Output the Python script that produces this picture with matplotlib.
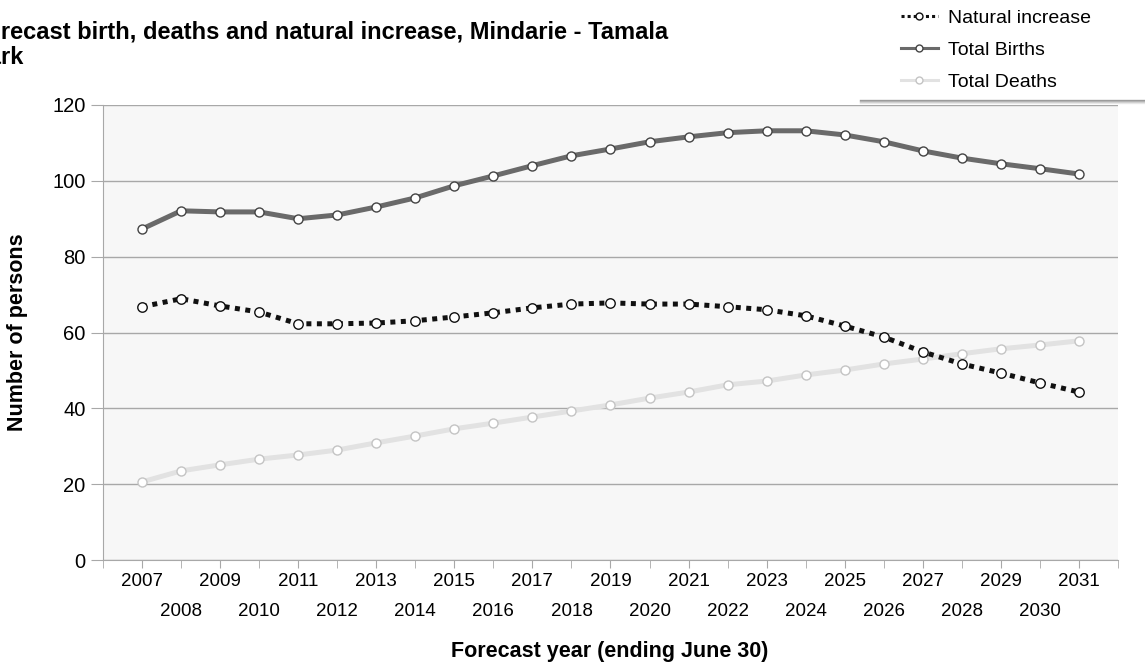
import matplotlib.pyplot as plt
from matplotlib.lines import Line2D
from matplotlib.ticker import FixedLocator, FixedFormatter

plt.rcParams['font.family'] = ['Liberation Sans', 'DejaVu Sans']

years = list(range(2007, 2032))
births = [87.3, 92.1, 91.8, 91.8, 90.0, 91.0, 93.1, 95.5, 98.7, 101.3, 104.0, 106.6, 108.4,
          110.3, 111.6, 112.7, 113.2, 113.2, 112.1, 110.3, 107.9, 106.0, 104.5, 103.2, 101.8]
deaths = [20.6, 23.5, 25.1, 26.6, 27.7, 29.0, 30.9, 32.7, 34.6, 36.1, 37.7, 39.3, 40.9,
          42.7, 44.3, 46.2, 47.2, 48.8, 50.1, 51.7, 53.0, 54.4, 55.7, 56.7, 57.8]
natural = [66.8, 68.9, 67.0, 65.4, 62.3, 62.3, 62.5, 63.1, 64.1, 65.2, 66.5, 67.5, 67.8,
           67.5, 67.5, 66.8, 66.0, 64.4, 61.7, 58.8, 54.9, 51.7, 49.3, 46.7, 44.3]
yticks = [0, 20, 40, 60, 80, 100, 120]

fig = plt.figure(figsize=(11.45, 6.68), dpi=100)
ax = fig.add_axes([103/1145, 1-560/668, (1118-103)/1145, (560-105)/668])
ax.set_facecolor('#f7f7f7')

ax.plot(years, deaths, '-', color='#e2e2e2', lw=3.6, marker='o', ms=6.5,
        mfc='white', mec='#c4c4c4', mew=1, zorder=3)
ax.plot(years, births, '-', color='#6a6a6a', lw=3.6, marker='o', ms=6.5,
        mfc='white', mec='#444444', mew=1, zorder=4)
ax.plot(years, natural, color='#111111', lw=3.6, ls=(0, (1, 1.1)), marker='o', ms=6.8,
        mfc='white', mec='#111111', mew=1, zorder=5)

ax.set_xlim(2006, 2032)
ax.set_ylim(0, 120)
ax.set_yticks(yticks)
ax.grid(axis='y', color='#a8a8a8', lw=1)
ax.set_axisbelow(True)
for s in ['top', 'right']:
    ax.spines[s].set_visible(False)
for s in ['left', 'bottom']:
    ax.spines[s].set_color('#a8a8a8')

odd = [y for y in years if y % 2 == 1]
even = [2006] + [y for y in years if y % 2 == 0] + [2032]
even_lab = [''] + [str(y) for y in years if y % 2 == 0] + ['']
ax.xaxis.set_major_locator(FixedLocator(odd))
ax.xaxis.set_major_formatter(FixedFormatter([str(y) for y in odd]))
ax.xaxis.set_minor_locator(FixedLocator(even))
ax.xaxis.set_minor_formatter(FixedFormatter(even_lab))
ax.tick_params(axis='x', which='major', length=6, color='#a8a8a8', labelsize=13.5, pad=3)
ax.tick_params(axis='x', which='minor', length=6, color='#a8a8a8', labelsize=13.5, pad=25)
ax.tick_params(axis='y', length=9, color='#a8a8a8', labelsize=14.5, pad=3.5)

# title is clipped at the left edge, as in the source image
fig.text(668/1145, 1-20/668, 'Forecast birth, deaths and natural increase, Mindarie - Tamala\nPark',
         ha='right', va='top', multialignment='left', fontsize=17, fontweight='bold',
         linespacing=1.15)
fig.text(18/1145, 1-332/668, 'Number of persons', rotation=90, ha='center', va='center',
         fontsize=15.5, fontweight='bold')
fig.text(610/1145, 1-651/668, 'Forecast year (ending June 30)', ha='center', va='center',
         fontsize=15.5, fontweight='bold')

# legend with shadow line under it
handles = [
    Line2D([], [], color='#111111', lw=2.2, ls=(0, (1, 1)), marker='o', ms=5, mfc='white', mec='#111111'),
    Line2D([], [], color='#6a6a6a', lw=2.2, marker='o', ms=5, mfc='white', mec='#444444'),
    Line2D([], [], color='#e2e2e2', lw=2.2, marker='o', ms=5, mfc='white', mec='#c4c4c4'),
]
fig.legend(handles, ['Natural increase', 'Total Births', 'Total Deaths'],
           loc='upper left', bbox_to_anchor=(883/1145, 1+8/668), frameon=False,
           fontsize=14, handlelength=1.95, handletextpad=0.5, labelspacing=0.74)
for i, a in enumerate([0.55, 0.35, 0.2, 0.1]):
    fig.add_artist(Line2D([860/1145, 1], [1-(100+i)/668]*2, color='#555555', alpha=a, lw=1))

fig.savefig('out.png', dpi=100)
